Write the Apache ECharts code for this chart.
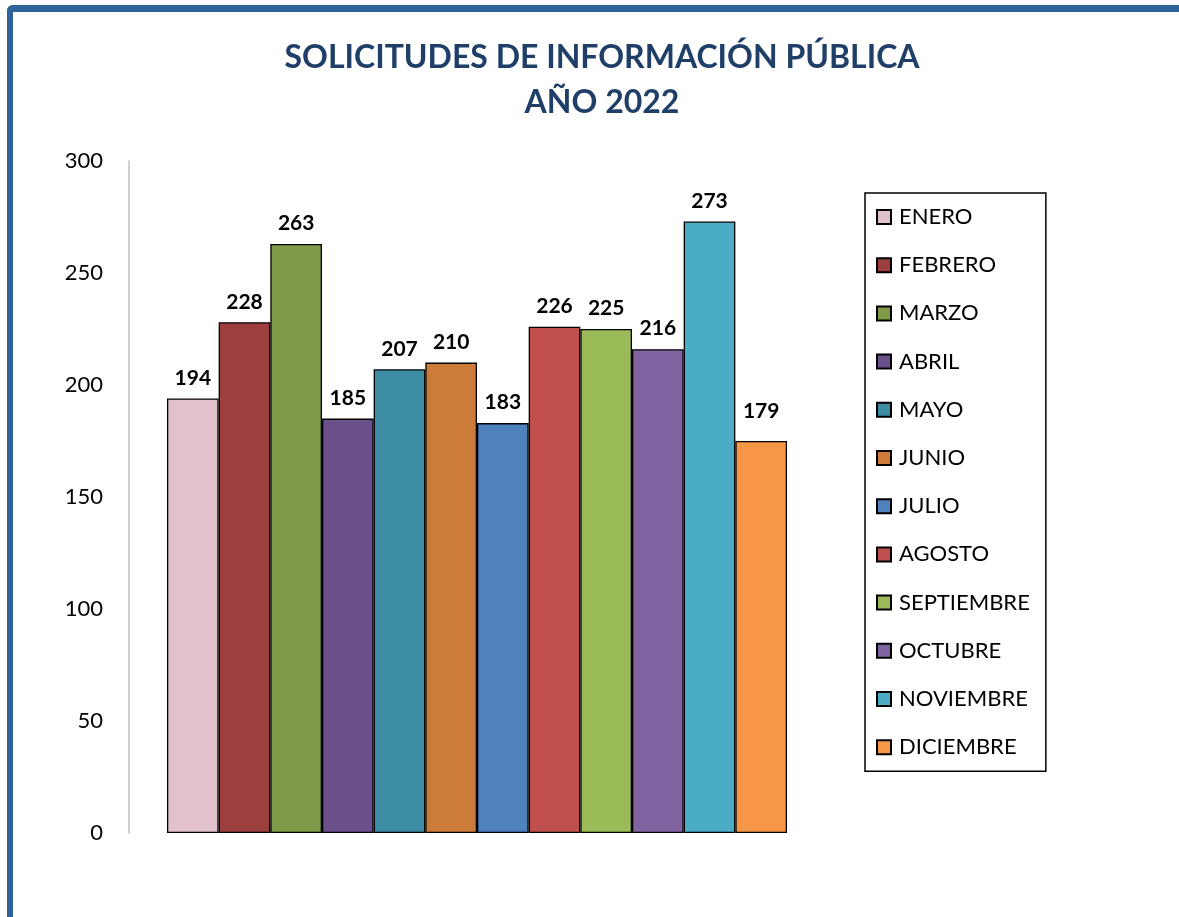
<!DOCTYPE html>
<html>
<head>
<meta charset="utf-8">
<script src="https://cdn.jsdelivr.net/npm/echarts@6/dist/echarts.min.js"></script>
<style>
html,body{margin:0;padding:0;background:#fff;}
#frame{position:absolute;left:7px;top:5px;width:1200px;height:940px;border-left:6px solid #2E6399;border-top:7px solid #2E6399;border-top-left-radius:6px;box-sizing:border-box;}
#chart{position:absolute;left:0;top:0;width:1179px;height:917px;}
</style>
</head>
<body>
<div id="frame"></div>
<div id="chart"></div>
<script>
const months = ['ENERO','FEBRERO','MARZO','ABRIL','MAYO','JUNIO','JULIO','AGOSTO','SEPTIEMBRE','OCTUBRE','NOVIEMBRE','DICIEMBRE'];
const values = [194, 228, 263, 185, 207, 210, 183, 226, 225, 216, 273, 175];
const labelValues = [194, 228, 263, 185, 207, 210, 183, 226, 225, 216, 273, 179];
const colors = ['#E0C1CC','#9C3F3E','#7F9A48','#69508A','#3C8DA3','#CC7B38','#4F81BD','#C0504D','#9BBB59','#8064A2','#4BACC6','#F79646'];
const yTicks = [0, 50, 100, 150, 200, 250, 300];

const FONT = 'Lato, "Open Sans", sans-serif';
const chart = echarts.init(document.getElementById('chart'), null, {renderer:'canvas'});
const pxPerUnit = (833 - 161) / 300;

const series = months.map((m, i) => ({
  name: m,
  type: 'bar',
  data: [values[i]],
  barWidth: 51.67,
  barGap: '0%',
  itemStyle: { color: colors[i], borderColor: '#000', borderWidth: 1.3 },
  label: {
    show: true,
    position: 'top',
    distance: 10 + (labelValues[i] - values[i]) * pxPerUnit,
    formatter: () => String(labelValues[i]),
    fontFamily: FONT,
    fontWeight: 'bold',
    fontSize: 21,
    color: '#000'
  }
}));

chart.setOption({
  animation: false,
  title: {
    text: 'SOLICITUDES DE INFORMACIÓN PÚBLICA\nAÑO 2022',
    left: 597, textAlign: 'center', top: 30,
    textStyle: { fontFamily: FONT, fontWeight: 'bold', fontSize: 32, color: '#1F3F68', lineHeight: 45 }
  },
  legend: {
    orient: 'vertical',
    left: 865, top: 193,
    padding: [13, 16, 13, 11],
    itemGap: 26.2,
    itemWidth: 14, itemHeight: 14,
    icon: 'rect',
    borderColor: '#000', borderWidth: 1.5,
    textStyle: { fontFamily: FONT, fontSize: 22, color: '#000', lineHeight: 22, padding: [0,0,0,3] },
    data: months
  },
  grid: { left: 129, right: 354, top: 161, bottom: 84 },
  xAxis: {
    type: 'category', data: [''],
    axisLine: { show: false }, axisTick: { show: false }, axisLabel: { show: false }
  },
  yAxis: {
    type: 'value', min: yTicks[0], max: yTicks[yTicks.length-1], interval: 50,
    axisLine: { show: true, lineStyle: { color: '#BFBFBF', width: 1.5 } },
    axisTick: { show: false },
    splitLine: { show: false },
    axisLabel: { fontFamily: FONT, fontSize: 22, color: '#000', margin: 26, lineHeight: 28, verticalAlign: 'middle' }
  },
  series: series
});
</script>
</body>
</html>
